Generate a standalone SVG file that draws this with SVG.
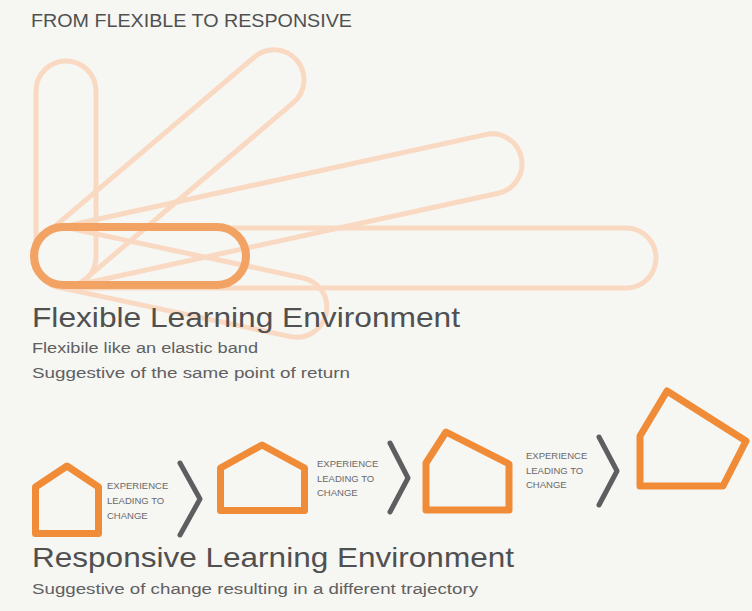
<svg xmlns="http://www.w3.org/2000/svg" width="752" height="611" viewBox="0 0 752 611">
<style>
.bg{fill:#f6f6f3}
.band{fill:none;stroke:#f9d9c1;stroke-width:5}
.main{fill:none;stroke:#f2a262;stroke-width:8}
.house{fill:none;stroke:#f08c37;stroke-width:7;stroke-linejoin:round}
.chev{fill:none;stroke:#5e5e60;stroke-width:5;stroke-linecap:round;stroke-linejoin:round}
.t{font-family:"Liberation Sans",Arial,sans-serif;fill:#505050}
.h{font-size:28px}
.s{font-size:15.5px;fill:#606060}
.x{font-size:9.5px;fill:#6a6a6a}
</style>
<rect class="bg" x="0" y="0" width="752" height="611"/>
<text class="t" x="31" y="27" font-size="19" textLength="321" lengthAdjust="spacingAndGlyphs">FROM FLEXIBLE TO RESPONSIVE</text>
<g id="flexible">
  <g id="bands">
    <rect class="band" x="36" y="227" width="226" height="60" rx="30" transform="rotate(-90 66 257)"/>
    <rect class="band" x="35" y="227" width="334" height="60" rx="30" transform="rotate(-40.3 65 257)"/>
    <rect class="band" x="35" y="227" width="497" height="60" rx="30" transform="rotate(-12.3 65 257)"/>
    <rect class="band" x="35" y="228" width="621" height="60" rx="30"/>
    <rect class="band" x="35" y="228" width="297" height="60" rx="30" transform="rotate(12 65 258)"/>
  </g>
  <rect id="main-band" class="main" x="34" y="227" width="212" height="58" rx="29"/>
</g>
<text class="t h" x="32" y="327" textLength="428" lengthAdjust="spacingAndGlyphs">Flexible Learning Environment</text>
<text class="t s" x="32" y="353" textLength="226" lengthAdjust="spacingAndGlyphs">Flexibile like an elastic band</text>
<text class="t s" x="32" y="378" textLength="318" lengthAdjust="spacingAndGlyphs">Suggestive of the same point of return</text>
<g id="house1"><path class="house" d="M35.5,487 L67,466 L98.5,487 L98.5,533.5 L35.5,533.5 Z"/></g>
<g id="house2"><path class="house" d="M220.5,468 L262,445 L304.5,468 L304.5,510.5 L220.5,510.5 Z"/></g>
<g id="house3"><path class="house" d="M426,463 L446,432 L509,464 L509,510 L426,510 Z"/></g>
<g id="house4"><path class="house" d="M640,436 L667,391 L746,441 L723,486 L640,486 Z"/></g>
<g id="connectors">
  <polyline class="chev" points="180,463 200,499 180,535"/>
  <polyline class="chev" points="390,443 408,478 390,512"/>
  <polyline class="chev" points="599,437 617,471 599,505"/>
</g>
<g id="labels">
  <text class="t x" x="107" y="489">EXPERIENCE</text>
  <text class="t x" x="107" y="504">LEADING TO</text>
  <text class="t x" x="107" y="519">CHANGE</text>
  <text class="t x" x="317" y="467">EXPERIENCE</text>
  <text class="t x" x="317" y="482">LEADING TO</text>
  <text class="t x" x="317" y="496">CHANGE</text>
  <text class="t x" x="526" y="459">EXPERIENCE</text>
  <text class="t x" x="526" y="474">LEADING TO</text>
  <text class="t x" x="526" y="488">CHANGE</text>
</g>
<text class="t h" x="32" y="567" textLength="482" lengthAdjust="spacingAndGlyphs">Responsive Learning Environment</text>
<text class="t s" x="32" y="594" textLength="446" lengthAdjust="spacingAndGlyphs">Suggestive of change resulting in a different trajectory</text>
</svg>
